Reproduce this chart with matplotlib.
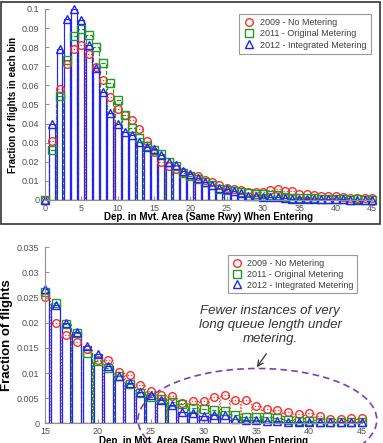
import numpy as np
import matplotlib.pyplot as plt
from matplotlib.patches import Ellipse, Rectangle

# bins 0..45
bins = list(range(0, 46))

no_metering_2009 = [0, 0.0307, 0.0579, 0.0712, 0.0792, 0.0812, 0.0766, 0.0695, 0.0627, 0.0541,
                    0.0476, 0.0445, 0.0417, 0.0373, 0.0307, 0.0251, 0.0200, 0.0176, 0.0162, 0.0147,
                    0.0125, 0.0126, 0.0103, 0.0096, 0.0076, 0.0064, 0.0056, 0.0054, 0.0040, 0.0044,
                    0.0044, 0.0052, 0.0056, 0.0046, 0.0047, 0.0034, 0.0029, 0.0026, 0.0022, 0.0019,
                    0.0020, 0.0015, 0.0009, 0.0009, 0.0010, 0.0010]
orig_metering_2011 = [0, 0.0264, 0.0543, 0.0733, 0.0857, 0.0895, 0.0864, 0.0799, 0.0716, 0.0613,
                      0.0524, 0.0445, 0.0379, 0.0326, 0.0284, 0.0262, 0.0239, 0.0197, 0.0179, 0.0139,
                      0.0124, 0.0110, 0.0095, 0.0078, 0.0060, 0.0053, 0.0048, 0.0043, 0.0038, 0.0031,
                      0.0029, 0.0027, 0.0024, 0.0016, 0.0013, 0.0012, 0.0013, 0.0010, 0.0007, 0.0004,
                      0.0004, 0.0003, 0.0002, 0.0003, 0.0002, 0.0002]
integ_metering_2012 = [0, 0.0398, 0.0789, 0.0950, 0.1000, 0.0940, 0.0812, 0.0690, 0.0565, 0.0458,
                       0.0400, 0.0355, 0.0340, 0.0305, 0.0280, 0.0268, 0.0235, 0.0199, 0.0181, 0.0154,
                       0.0137, 0.0113, 0.0095, 0.0081, 0.0062, 0.0057, 0.0046, 0.0037, 0.0023, 0.0021,
                       0.0015, 0.0017, 0.0017, 0.0008, 0.0007, 0.0006, 0.0005, 0.0005, 0.0003, 0.0003,
                       0.0003, 0.0003, 0.0002, 0.0002, 0.0002, 0.0002]

labels = ['2009 - No Metering', '2011 - Original Metering', '2012 - Integrated Metering']
xlabel = 'Dep. in Mvt. Area (Same Rwy) When Entering'

red = '#ff2a2a'
green = '#1e9e1e'
blue = '#2323ff'
styles = [
    (no_metering_2009, red, 'o', ':', 0.9),
    (orig_metering_2011, green, 's', '--', 0.85),
    (integ_metering_2012, blue, '^', '-', 0.8),
]

plt.rcParams['font.family'] = 'Liberation Sans'

fig = plt.figure(figsize=(3.83, 4.43), dpi=100)

# frame around the top panel
fig.patches.append(Rectangle((1 / 383, 1 - 224 / 443), 379 / 383, 222 / 443,
                             transform=fig.transFigure, fill=False,
                             edgecolor='#333333', linewidth=1.2))


def draw(ax, xmin, ymax, yticks, ytlabels, ylabel, ylabel_size, xlabelpad):
    handles = []
    for vals, c, m, ls, w in styles:
        ax.bar(bins, vals, width=w, fill=False, edgecolor=c, linestyle=ls, linewidth=0.85)
    for vals, c, m, ls, w in styles:
        xs = [b for b in bins if b >= xmin]
        ys = [v for b, v in zip(bins, vals) if b >= xmin]
        h, = ax.plot(xs, ys, linestyle='none', marker=m, markersize=5.5,
                     markerfacecolor='none', markeredgecolor=c, markeredgewidth=1.0,
                     clip_on=False)
        handles.append(h)
    ax.set_xlim(xmin, 45)
    ax.set_ylim(0, ymax)
    ax.set_xticks(range(xmin, 46, 5))
    ax.set_yticks(yticks)
    ax.set_yticklabels(ytlabels)
    for s in ['top', 'right']:
        ax.spines[s].set_visible(False)
    for s in ['left', 'bottom']:
        ax.spines[s].set_color('#909090')
    ax.tick_params(direction='in', length=3, colors='#909090', labelcolor='#505050',
                   labelsize=6.5)
    ax.tick_params(axis='y', pad=4)
    ax.tick_params(axis='x', pad=3)
    ax.set_xlabel(xlabel, fontsize=7, fontweight='bold', labelpad=xlabelpad)
    ax.set_ylabel(ylabel, fontsize=ylabel_size, fontweight='bold', labelpad=3)
    return handles


ax1 = fig.add_axes([45 / 383, 1 - 200 / 443, 327 / 383, 191 / 443])
yt1 = [i / 100 for i in range(0, 11)]
h1 = draw(ax1, 0, 0.1, yt1, ['0'] + ['%g' % v for v in yt1[1:]],
          'Fraction of flights in each bin', 7, -1)
leg1 = ax1.legend(h1, labels, loc='upper right', bbox_to_anchor=(1.01, 1.0), fontsize=6.5,
                  frameon=True, fancybox=False, handletextpad=0.6, borderpad=0.5,
                  labelspacing=0.25, handlelength=1.2)
leg1.get_frame().set_edgecolor('#808080')
leg1.get_frame().set_linewidth(0.8)
for t in leg1.get_texts():
    t.set_color('#404040')

ax2 = fig.add_axes([45 / 383, 1 - 423.3 / 443, 317 / 383, 176 / 443])
yt2 = [i * 0.005 for i in range(0, 8)]
h2 = draw(ax2, 15, 0.035, yt2, ['0', '0.005', '0.01', '0.015', '0.02', '0.025', '0.03', '0.035'],
          'Fraction of flights', 9.5, 0)
leg2 = ax2.legend(h2, labels, loc='upper right', bbox_to_anchor=(1.0, 0.98), fontsize=6.5,
                  frameon=True, fancybox=False, handletextpad=0.6, borderpad=0.4,
                  labelspacing=0.2, handlelength=1.2)
leg2.get_frame().set_edgecolor('#808080')
leg2.get_frame().set_linewidth(0.8)
for t in leg2.get_texts():
    t.set_color('#404040')

ax2.add_patch(Ellipse((35.1, 0.0007), 22.6, 0.0204, fill=False, edgecolor='#7b3fb5',
                      linestyle=(0, (4, 2.5)), linewidth=1.2, clip_on=False))
ax2.text(36.3, 0.0196, 'Fewer instances of very\nlong queue length under\nmetering.',
         ha='center', va='center', fontsize=9.5, style='italic', color='#333333',
         linespacing=1.2)
ax2.annotate('', xy=(34.9, 0.0107), xytext=(36.1, 0.0143),
             arrowprops=dict(arrowstyle='->', color='#333333', lw=0.9))

fig.savefig('out.png', dpi=100)
